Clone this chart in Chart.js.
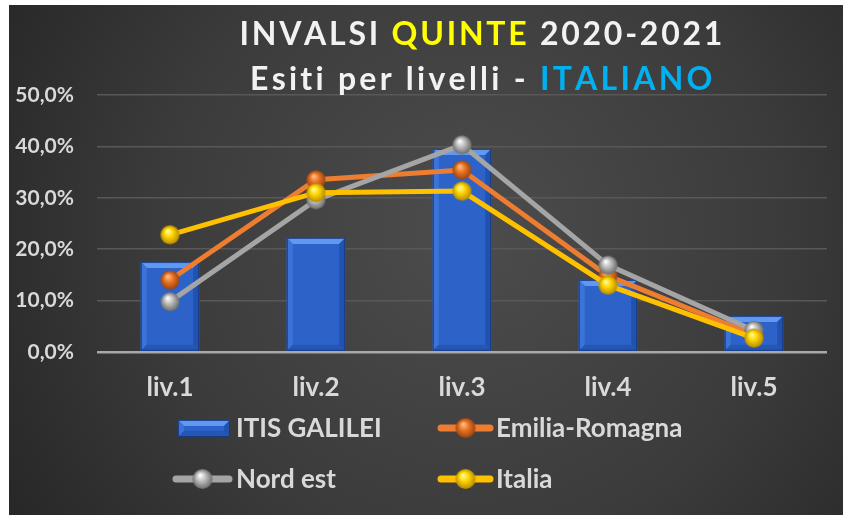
<!DOCTYPE html>
<html><head><meta charset="utf-8">
<script src="https://cdn.jsdelivr.net/npm/chart.js@4.4.0/dist/chart.umd.min.js"></script>
<style>html,body{margin:0;padding:0;background:#fff;overflow:hidden}#wrap{position:absolute;left:0;top:0;width:843px;height:515px}</style>
</head><body><div id="wrap"><canvas id="c" width="843" height="515"></canvas></div>
<script>
const categories = ['liv.1', 'liv.2', 'liv.3', 'liv.4', 'liv.5'];
const itisGalilei = [17.5, 22.2, 39.5, 14.0, 7.0];
const emiliaRomagna = [14.0, 33.5, 35.4, 14.8, 3.3];
const nordEst = [9.8, 29.6, 40.3, 16.9, 4.2];
const italia = [22.8, 31.0, 31.3, 13.0, 2.7];
const yTicks = [0, 10, 20, 30, 40, 50];
const seriesNames = ['ITIS GALILEI', 'Emilia-Romagna', 'Nord est', 'Italia'];
const titleLine1 = [['INVALSI ', '#f2f2f2'], ['QUINTE', '#ffff00'], [' 2020-2021', '#f2f2f2']];
const titleLine2 = [['Esiti per livelli - ', '#f2f2f2'], ['ITALIANO', '#00b0f0']];

function sphere(light, base, dark, r) {
  const c = document.createElement('canvas');
  const s = Math.ceil(r * 2 + 2);
  c.width = s; c.height = s;
  const g = c.getContext('2d');
  const cx = s / 2, cy = s / 2;
  const grad = g.createRadialGradient(cx - r * 0.25, cy - r * 0.4, r * 0.05, cx, cy, r);
  grad.addColorStop(0, light);
  grad.addColorStop(0.45, base);
  grad.addColorStop(1, dark);
  g.fillStyle = grad;
  g.beginPath(); g.arc(cx, cy, r, 0, Math.PI * 2); g.fill();
  return c;
}
const sphOrange = sphere('#ffc08a', '#ea7424', '#9c4310', 9.5);
const sphGray = sphere('#ffffff', '#bcbcbc', '#6c6c6c', 9.5);
const sphYellow = sphere('#ffff9a', '#ffd400', '#b88c00', 9.5);
const legOrange = sphere('#ffc08a', '#ea7424', '#9c4310', 10);
const legGray = sphere('#ffffff', '#bcbcbc', '#6c6c6c', 10);
const legYellow = sphere('#ffff9a', '#ffd400', '#b88c00', 10);

function bevelRect(ctx, l, t, r, b) {
  const bv = Math.max(0, Math.min(6, (b - t) / 2, (r - l) / 2));
  ctx.fillStyle = '#2d63c8';
  ctx.fillRect(l, t, r - l, b - t);
  const poly = (pts, col) => { ctx.fillStyle = col; ctx.beginPath(); ctx.moveTo(pts[0], pts[1]); for (let i = 2; i < pts.length; i += 2) ctx.lineTo(pts[i], pts[i + 1]); ctx.closePath(); ctx.fill(); };
  poly([l, t, r, t, r - bv, t + bv, l + bv, t + bv], '#6198f0');
  poly([l, t, l + bv, t + bv, l + bv, b - bv, l, b], '#3b73d8');
  poly([r, t, r, b, r - bv, b - bv, r - bv, t + bv], '#2152b0');
  poly([l, b, l + bv, b - bv, r - bv, b - bv, r, b], '#2456b4');
  ctx.strokeStyle = 'rgba(20,50,120,0.8)'; ctx.lineWidth = 1;
  ctx.strokeRect(l + 0.5, t + 0.5, r - l - 1, b - t - 1);
}

const bgPlugin = {
  id: 'bg',
  beforeDraw(chart) {
    const ctx = chart.ctx;
    ctx.save();
    ctx.fillStyle = '#ffffff';
    ctx.fillRect(0, 0, 843, 515);
    const g = ctx.createRadialGradient(470, 230, 10, 470, 240, 560);
    g.addColorStop(0, '#4c4c4c');
    g.addColorStop(0.55, '#3b3b3b');
    g.addColorStop(1, '#252525');
    ctx.fillStyle = g;
    ctx.fillRect(9, 5, 834, 510);
    ctx.restore();
  }
};

const barBevelPlugin = {
  id: 'barBevel',
  afterDatasetDraw(chart, args) {
    if (args.index !== 0) return;
    const ctx = chart.ctx;
    ctx.save();
    args.meta.data.forEach(el => {
      const p = el.getProps(['x', 'y', 'base', 'width'], true);
      bevelRect(ctx, p.x - p.width / 2, p.y, p.x + p.width / 2, p.base);
    });
    ctx.restore();
  }
};

function drawSpaced(ctx, segs, cx, baseline, target) {
  const full = segs.map(s => s[0]).join('');
  const w0 = ctx.measureText(full).width;
  const n = full.length;
  const ls = (target - w0) / (n - 1);
  let x = cx - target / 2;
  segs.forEach(([txt, col]) => {
    ctx.fillStyle = col;
    for (const ch of txt) {
      ctx.fillText(ch, x, baseline);
      x += ctx.measureText(ch).width + ls;
    }
  });
}

const titlePlugin = {
  id: 'titleSegs',
  afterDraw(chart) {
    const ctx = chart.ctx;
    ctx.save();
    ctx.font = 'bold 32px Lato';
    ctx.textAlign = 'left';
    ctx.textBaseline = 'alphabetic';
    drawSpaced(ctx, titleLine1, 480, 45, 481);
    drawSpaced(ctx, titleLine2, 480, 90, 460);
    ctx.restore();
  }
};

const legendPlugin = {
  id: 'customLegend',
  afterDraw(chart) {
    const ctx = chart.ctx;
    const ds = chart.data.datasets;
    ctx.save();
    bevelRect(ctx, 178, 420, 230, 437);
    const lineItem = (x1, x2, y, col, img) => {
      ctx.strokeStyle = col; ctx.lineWidth = 7; ctx.lineCap = 'round';
      ctx.beginPath(); ctx.moveTo(x1, y); ctx.lineTo(x2, y); ctx.stroke();
      ctx.drawImage(img, (x1 + x2) / 2 - img.width / 2, y - img.height / 2);
    };
    lineItem(441, 490, 428, ds[1].borderColor, legOrange);
    lineItem(176, 229, 479, ds[2].borderColor, legGray);
    lineItem(441, 490, 479, ds[3].borderColor, legYellow);
    ctx.font = 'bold 26px Lato';
    ctx.fillStyle = '#d9d9d9';
    ctx.textAlign = 'left';
    ctx.textBaseline = 'alphabetic';
    ctx.fillText(ds[0].label, 236, 437);
    ctx.fillText(ds[1].label, 496, 437);
    ctx.fillText(ds[2].label, 236, 488);
    ctx.fillText(ds[3].label, 496, 488);
    ctx.restore();
  }
};

new Chart(document.getElementById('c'), {
  data: {
    labels: categories,
    datasets: [
      { type: 'bar', label: seriesNames[0], data: itisGalilei, backgroundColor: '#2d63c8', borderWidth: 0, barPercentage: 0.4, categoryPercentage: 1, order: 4 },
      { type: 'line', label: seriesNames[1], data: emiliaRomagna, borderColor: '#ed7d31', borderWidth: 5, pointStyle: sphOrange, pointRadius: 9, tension: 0, order: 3 },
      { type: 'line', label: seriesNames[2], data: nordEst, borderColor: '#a5a5a5', borderWidth: 5, pointStyle: sphGray, pointRadius: 9, tension: 0, order: 2 },
      { type: 'line', label: seriesNames[3], data: italia, borderColor: '#ffc000', borderWidth: 5, pointStyle: sphYellow, pointRadius: 9, tension: 0, order: 1 }
    ]
  },
  options: {
    responsive: false,
    animation: false,
    devicePixelRatio: 1,
    layout: { padding: { left: 0, top: 95, right: 16, bottom: 103 } },
    plugins: { legend: { display: false }, title: { display: false }, tooltip: { enabled: false } },
    scales: {
      x: {
        offset: true,
        grid: { display: false, drawTicks: false },
        border: { display: false },
        ticks: { color: '#d9d9d9', font: { family: 'Lato', weight: 'bold', size: 26 }, padding: 20 },
        afterFit: s => { s.height = 60; }
      },
      y: {
        min: 0, max: 50,
        afterBuildTicks: s => { s.ticks = yTicks.map(v => ({ value: v })); },
        grid: {
          drawTicks: false,
          color: c => c.tick && c.tick.value === 0 ? '#a8a8a8' : '#585858',
          lineWidth: c => c.tick && c.tick.value === 0 ? 2.5 : 1.5
        },
        border: { display: false },
        ticks: { color: '#d9d9d9', font: { family: 'Lato', weight: 'bold', size: 21 }, padding: 23,
          callback: v => v.toFixed(1).replace('.', ',') + '%' },
        afterFit: s => { s.width = 97; }
      }
    }
  },
  plugins: [bgPlugin, barBevelPlugin, titlePlugin, legendPlugin]
});
</script>
</body></html>
